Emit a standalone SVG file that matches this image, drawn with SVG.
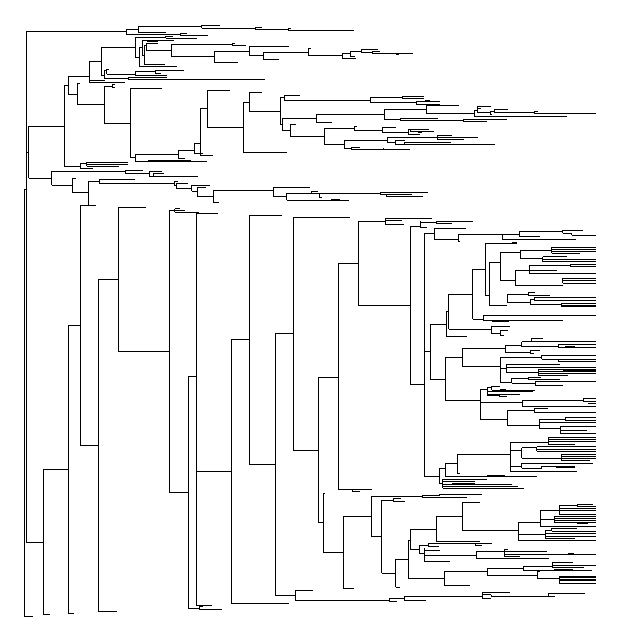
<svg xmlns="http://www.w3.org/2000/svg" width="620" height="642" viewBox="0 0 620 642">
<style>
.br{fill:none;stroke:#000;stroke-width:1;shape-rendering:crispEdges}
</style>
<rect width="620" height="642" fill="#fff"/>
<g id="connectors">
<g id="backbone">
<path class="br" d="M24.3 189 V616 M24.3 616 H32.7 M24.3 189 H26.3 M26.3 31 V542.3 M26.3 31 H126 M26.3 152 H28.7 M26.3 542.3 H43.3
M43.3 469.3 V614.3 M43.3 614.3 H49.7 M43.3 469.3 H68.3
M68.3 325.3 V613.3 M68.3 613.3 H73.7 M68.3 325.3 H80.3
M80.3 205.5 V445.3 M80.3 205.5 H96 M80.3 445.3 H98.3
M98.3 279.3 V611.3 M98.3 611.3 H116.7 M98.3 279.3 H118.3
M118.3 207.3 V351.3 M118.3 207.3 H145.7 M118.3 351.3 H169.3
M169.3 210.3 V492.3 M169.3 210.3 H174.7 M174.7 208.7 V212.3 M174.7 208.7 H180 M174.7 210.7 H184.7 M174.7 212.3 H198.7 M169.3 492.3 H188.3
M188.3 376.3 V608.3 M188.3 376.3 H196.3 M188.3 608.3 H199.3 M199.3 606.3 V609.3 M199.3 606.3 H202.7 M199.3 609.3 H221.7
M196.3 213.3 V605.3 M196.3 605.3 H211.7 M196.3 213.3 H217.7 M196.3 471.3 H231.3
M231.3 339.3 V603 M231.3 603 H288.7 M231.3 339.3 H249.3
M249.3 215.3 V464.3 M249.3 215.3 H281.7 M249.3 464.3 H275.3
M275.3 333.3 V595.3 M275.3 333.3 H293.3 M275.3 595.3 H295.3
M293.3 217.3 V450.3 M293.3 217.3 H350 M293.3 450.3 H318.3
M318.3 377.3 V522.3 M318.3 377.3 H338.3 M318.3 522.3 H323.3
M338.3 263 V489.3 M338.3 263 H358.3 M338.3 489.3 H352.3 M352.3 489.3 V491.3 M352.3 489.3 H371.7 M352.3 491.3 H360"/>
</g>
<g id="clade-top">
<path class="br" d="M126 29.3 V34.3 M126 29.3 H138.3 M126 34.3 H180
M138.3 26 V32.3 M138.3 26 H201.7 M138.3 32.3 H166
M201.7 25 V28.3 M201.7 25 H220 M201.7 28.3 H255
M255 27.3 V29.3 M255 27.3 H261.7 M255 29.3 H288.3
M288.3 28.3 V30.3 M288.3 28.3 H291 M288.3 30.3 H353.7
M180 33.3 V35 M180 33.3 H186.7 M180 35 H208.3"/>
</g>
<g id="clade-upper">
<path class="br" d="M28.7 126.3 V178.3 M28.7 126.3 H64.3 M28.7 178.3 H51.7
M64.3 85.3 V166.7 M64.3 85.3 H68.3 M64.3 166.7 H80.3
M68.3 76.3 V94.3 M68.3 76.3 H89.3 M68.3 94.3 H77.3
M89.3 61.3 V82.3 M89.3 61.3 H101.3 M89.3 80 H105 M89.3 82.3 H125
M101.3 47.3 V75.5 M101.3 47.3 H135.3 M101.3 75.5 H104.3
M135.3 37.3 V57.3 M135.3 37.3 H165.7 M135.3 57.3 H139.3
M165.7 36 V38.3 M165.7 36 H172.7 M165.7 38.3 H196.7
M139.3 47.3 V66.7 M139.3 47.3 H142.3 M139.3 66.7 H176.7
M142.3 40.7 V55.7 M142.3 40.7 H174 M142.3 55.7 H144.3
M144.3 45.7 V64.3 M144.3 45.7 H146.7 M144.3 64.3 H165
M146.7 43 V50.7 M146.7 43 H158.3 M147 41.3 H158.3 M146.7 50.7 H171
M171 44.3 V56.3 M171 44.3 H232.3 M171 56.3 H214.3
M232.3 43 V45.3 M232.3 43 H235 M232.3 45.3 H245.7
M214.3 51.3 V62.3 M214.3 51.3 H249 M214.3 62.3 H238.3
M249 46.3 V55 M249 46.3 H289 M249 55 H263.3
M263.3 52.3 V59.3 M263.3 52.3 H308.3 M263.3 59.3 H279
M308.3 48.3 V55.3 M308.3 48.3 H310.7 M308.3 55.3 H342.3
M342.3 53.3 V58.3 M342.3 53.3 H350.3 M342.3 58.3 H355.7
M350.3 51.3 V56.3 M350.3 51.3 H361.3 M350.3 56.3 H355
M361.3 49.3 V52.3 M361.3 49.3 H377.7 M361.3 52.3 H372.3
M372.3 51 V53.3 M372.3 51 H380 M372.3 53.3 H413 M396 54 H399
M104.3 70.5 V78.3 M104.3 70.5 H106.7 M106.7 69.3 V74 M106.7 69.3 H109 M106.7 74 H135
M135 71.7 V75.7 M135 71.7 H155.3 M155.3 70.7 V73.3 M155.3 70.7 H184 M155.3 73.3 H160.7 M135 75.7 H166.7
M104.3 78.3 H128.3 M128.3 77.3 V79.3 M128.3 77.3 H166.7 M128.3 79.3 H265
M77.3 83.3 V104.3 M77.3 83.3 H80 M77.3 104.3 H104.3
M104.3 86 V123.3 M104.3 86 H112.3 M112.3 84.7 V87.3 M112.3 84.7 H115 M112.3 87.3 H115 M104.3 123.3 H130.3
M130.3 88.3 V157.3 M130.3 88.3 H161.7 M130.3 157.3 H135.3
M135.3 154.3 V161.7 M135.3 154.3 H178.3 M135.3 161.7 H206.7 M148 160.5 H190.7
M178.3 150.3 V158.3 M178.3 150.3 H194.3 M178.3 158.3 H184.7
M194.3 143.3 V153.7 M194.3 143.3 H200.3 M194.3 153.7 H202.7
M200.3 108.3 V155.7 M200.3 108.3 H207.3 M200.3 155.7 H212.7
M207.3 90.3 V127.3 M207.3 90.3 H229.7 M207.3 127.3 H243.3
M243.3 102.3 V152.7 M243.3 102.3 H249.3 M243.3 152.7 H286.7 M243.3 152.2 H257
M249.3 92.7 V111.3 M249.3 92.7 H261.7 M249.3 92.2 H256.7 M249.3 111.3 H280.3
M280.3 97.7 V124.3 M280.3 97.7 H284.3 M284.3 95.3 V100.3 M284.3 95.3 H300 M284.3 100.3 H370.3 M280.3 124.3 H282.3
M282.3 118.3 V130.3 M282.3 118.3 H316.3 M282.3 130.3 H290.3
M290.3 124.3 V136.3 M290.3 124.3 H296 M290.3 136.3 H324.3
M316.3 114.3 V122.7 M316.3 114.3 H384.3 M316.3 122.7 H331.7
M384.3 109.3 V119.3 M384.3 109.3 H426.3 M384.3 119.3 H400
M426.3 105.7 V113.3 M426.3 105.7 H458.7 M426.3 113.3 H474.3
M474.3 110.3 V116.3 M474.3 110.3 H477.3 M474.3 116.3 H566.7
M477.3 106.7 V112.7 M477.3 106.7 H490.7 M477.3 108.7 H481 M477.3 112.7 H490.3
M490.3 111.3 V114.3 M490.3 111.3 H494.3 M494.3 109.3 V112.3 M494.3 109.3 H508 M494.3 112.3 H534.3 M534.3 111.3 V113.3 M534.3 111.3 H537.7 M534.3 113.3 H595.7 M490.3 114.3 H492
M400 118.3 V120.3 M400 118.3 H437.7 M400 120.3 H463.3 M463.3 119.3 V121.3 M463.3 119.3 H506.7 M463.3 121.3 H486.7
M370.3 97.3 V102.7 M370.3 97.3 H402.3 M402.3 96.3 V98.7 M402.3 96.3 H424.3 M402.3 98.7 H424 M370.3 102.7 H416.3 M416.3 101.3 V104.3 M416.3 101.3 H439.7 M416.3 104.3 H439.7 M425 100.6 H430
M324.3 128.3 V144.3 M324.3 128.3 H354.3 M324.3 144.3 H344.3
M354.3 126.3 V130.3 M354.3 126.3 H356.7 M354.3 130.3 H382.3
M382.3 127.3 V132.3 M382.3 127.3 H395.7 M382.3 132.3 H408.3
M408.3 129.7 V134.3 M408.3 129.7 H410.3 M410.3 129.7 V131.7 M410.3 129.7 H428.7 M410.3 131.7 H433.7 M408.3 134.3 H419.7 M418 132.6 H422
M344.3 140.3 V148.7 M344.3 140.3 H387.3 M344.3 148.7 H351.3 M351.3 147.3 V149 M351.3 147.3 H360 M351.3 149 H409.7 M383.3 148 V150
M387.3 137.3 V142.3 M387.3 137.3 H437.3 M387.3 142.3 H395.3
M437.3 135.7 V139.3 M437.3 135.7 H451.7 M437.3 137.3 H477.7 M437.3 139.3 H463.7
M395.3 140.3 V144.7 M395.3 140.3 H404.7 M395.3 144.7 H404.3 M404.3 142.7 V144.7 M404.3 142.7 H450.7 M404.3 144.7 H494.7 M413 144 H430.7
M80.3 163.3 V168.3 M80.3 163.3 H86.7 M86.7 162.3 V166 M86.7 162.3 H127.7 M86.7 164.3 H127.7 M86.7 166 H119 M80.3 168.3 H92.7
M51.7 171 V185.3 M51.7 171 H125.3 M51.7 185.3 H72.3
M125.3 170.3 V173.3 M125.3 170.3 H142.7 M125.3 173.3 H149.3
M149.3 171.3 V176.3 M149.3 171.3 H161.7 M149.3 176.3 H153.3 M153.3 173.7 V176.3 M153.3 173.7 H164 M153.3 176.3 H197.7
M72.3 178.3 V192.7 M72.3 178.3 H75.7 M72.3 192.7 H88.3
M88.3 181.3 V205.5 M88.3 181.3 H99.3
M99.3 179.3 V183.7 M99.3 179.3 H135 M99.3 183.7 H174.3
M174.3 181.7 V185 M174.3 181.7 H178.3 M174.3 185 H176.3 M176.3 183.3 V188.3 M176.3 183.3 H188 M176.3 188.3 H191.7
M191.7 185 V191.3 M191.7 185 H210 M191.7 191.3 H197.3
M197.3 187.3 V196.7 M197.3 187.3 H205.7 M197.3 196.7 H213.3
M213.3 190.3 V202.3 M213.3 190.3 H273.3 M213.3 202.3 H219
M273.3 187.7 V196.3 M273.3 187.7 H310 M273.3 196.3 H286.7
M286.7 193.3 V200.3 M286.7 193.3 H311.7 M286.7 200.3 H349 M331 199.8 H340
M311.7 191.3 V193.3 M311.7 191.3 H317.7 M311.7 193.3 H319.3 M319.3 193.3 V197.3 M319.3 193.3 H380.3 M319.3 197.3 H321.7
M380.3 192.3 V195.3 M380.3 192.3 H428 M380.3 194.7 H386.3 M386.3 194.7 V196.3 M386.3 194.7 H412 M386.3 196.3 H422.7"/>
</g>
<g id="clade-middle">
<path class="br" d="M358.3 221.3 V305.3 M358.3 221.3 H385 M385 218.3 V224 M385 218.3 H431.7 M385 220 H401.7 M385 224 H404
M358.3 305.3 H410.3 M410.3 226.7 V384.3 M410.3 226.7 H420 M420 221.3 V227 M420 222.3 H436 M436 221.3 V223.3 M436 221.3 H472.7 M436 223.3 H451.7 M420 227 H426.7
M410.3 384.3 H424.3
M424.3 233.3 V476.3 M424.3 233.3 H434.3 M424.3 351.7 H430 M424.3 476.3 H439.3
M434.3 228.5 V239.3 M434.3 228.5 H465.7 M434.3 239.3 H458.3 M458.3 234.7 V241.7 M458.3 234.7 H502.3 M458.3 241.7 H460
M502.3 234 V239.3 M502.3 239.3 H576 M502.3 234 H519 M519 231 V236.7 M519 231 H562.7 M519 236.7 H540
M562.7 230.3 V233.3 M562.7 230.3 H583.3 M562.7 233.3 H571.7 M571.7 233.3 V235 M571.7 235 H596
M430 324 V379.3 M430 324 H446 M430 379.3 H445.3
M446 311.7 V336.7 M446 311.7 H448.7 M446 336.7 H466.7
M448.7 294.3 V329.3 M448.7 294.3 H472.7 M448.7 329.3 H491.3
M491.3 326.7 V333 M491.3 326.7 H510 M491.3 333 H500 M500 330.7 V335 M500 330.7 H508 M500 335 H504
M472.7 269.3 V319.3 M472.7 269.3 H485.3 M472.7 319.3 H483.3
M485.3 243.3 V295.3 M485.3 243.3 H517.3 M512 242.3 V244.3 M512 242.3 H517 M485.3 295.3 H489
M489 262 V305 M489 262 H500.3
M500.3 252 V280 M500.3 252 H520 M520 250.3 V258.3 M520 250.3 H551.7 M551.7 247 V253.3 M551.7 247 H596 M551.7 249 H596 M551.7 251.2 H596 M551.7 253.3 H580
M520 258.3 H542.7 M542.7 256.7 V261.7 M542.7 256.7 H566.7 M542.7 259.3 H596 M542.7 261.7 H596
M500.3 280 H515 M515 270 V285 M515 270 H529.3 M529.3 265.5 V273.3 M529.3 265.5 H570.7 M570.7 264.3 V266.7 M570.7 264.3 H596 M570.7 266.7 H596 M529.3 270 H556.7 M529.3 273.3 H596
M515 285 H562.7 M562.7 278.3 V283.3 M562.7 278.3 H596 M562.7 280.7 H596 M562.7 283.3 H596
M489 305 H507.3 M507.3 294 V302 M507.3 294 H528.3 M528.3 292.7 V295 M528.3 292.7 H535 M528.3 295 H550
M507.3 302 H530 M530 299.3 V304.5 M530 299.3 H534.3 M534.3 297.3 V300.7 M534.3 297.3 H596 M534.3 300.7 H596 M530 304.5 H561.7 M561.7 303.3 V306.7 M561.7 303.3 H596 M561.7 305 H596 M561.7 306.7 H596
M483.3 315.7 V320.3 M483.3 315.7 H596 M483.3 320.3 H563.3 M492 321.7 H509
M445.3 357.3 V400.3 M445.3 357.3 H462.3 M445.3 400.3 H480
M462.3 348.3 V366 M462.3 348.3 H505 M462.3 366 H500.7
M505 345 V352.3 M505 345 H521.7 M505 352.3 H530 M530 350.7 V353 M530 350.7 H540 M530 353 H534
M521.7 341.7 V346.7 M521.7 341.7 H531 M531 338.3 V341.7 M531 338.3 H542.7 M531 341.7 H596 M521.7 346.7 H558.3 M558.3 344.7 V347.3 M558.3 344.7 H596 M558.3 347.3 H596 M565 346 H575
M500.7 357.3 V382.7 M500.7 357.3 H541.7 M541.7 355 V359.3 M541.7 355 H596 M586 355.8 H596 M541.7 359.3 H558.3 M558.3 359.3 V361.7 M558.3 359.3 H596 M558.3 361.7 H596
M500.7 368 H506.7 M506.7 364 V372.7 M506.7 364 H560 M506.7 367.3 H596 M506.7 372.7 H538.3 M538.3 369.3 V375 M538.3 369.3 H596 M563 370 H596 M538.3 371.7 H596 M538.3 373.3 H596 M538.3 375 H568.3
M500.7 382.7 H511.7 M511.7 378.3 V383.3 M511.7 378.3 H528.3 M528.3 377.3 V379.3 M528.3 377.3 H541 M528.3 379.3 H560 M511.7 383.3 H535 M535 381.7 V385 M535 381.7 H596 M535 385 H563.3
M480 389.3 V419.3 M480 389.3 H487 M480 402 H522.3 M480 419.3 H507.3
M487 387.3 V395.3 M487 387.3 H491.7 M491.7 386.3 V390 M491.7 386.3 H500 M491.7 390 H535 M487 391.7 H533.3 M487 394 H520 M487 395.3 H499 M499 395.3 V396.5 M499 396.5 H507 M500 389 H506
M522.3 400 V406 M522.3 400 H583.3 M583.3 398.3 V401.7 M583.3 398.3 H596 M583.3 401.7 H596 M522.3 406 H596 M588 403.7 H596
M507.3 410 V425 M507.3 410 H534 M534 408.3 V412.7 M534 408.3 H548.3 M534 412.7 H596 M568 412.2 H585
M507.3 425 H539 M539 419 V428.3 M539 419 H565 M565 417.3 V420 M565 417.3 H596 M565 420 H596 M539 422.7 H596 M539 428.3 H560 M560 426.7 V433.3 M560 426.7 H596 M560 430 H586.7 M560 433.3 H596
M439.3 468.7 V483.3 M439.3 468.7 H445.3 M439.3 483.3 H442.7
M445.3 463.3 V476 M445.3 463.3 H457.3 M445.3 476 H536.7 M486.7 475.5 H505
M457.3 454.3 V473.3 M457.3 454.3 H510 M457.3 473.3 H460
M510 441.7 V471.7 M510 442 H548.3 M548.3 437.3 V444.3 M548.3 437.3 H596 M548.3 439.5 H596 M548.3 441.7 H596 M548.3 444.3 H575
M510 450 H521.7 M521.7 447.5 V458 M521.7 447.5 H536.7 M536.7 446.7 V451.3 M536.7 446.7 H596 M536.7 449.3 H596 M576 449 H587 M536.7 451.3 H596 M521.7 458 H561.7 M561.7 454.3 V460.7 M561.7 454.3 H596 M561.7 456.5 H596 M561.7 458.7 H596 M561.7 460.7 H590
M510 466 H521.7 M521.7 463.3 V468.3 M521.7 463.3 H593 M521.7 468.3 H541.7 M541.7 466.3 V468.3 M541.7 466.3 H575 M556 467 H575
M510 471.7 H576.7 M540 471.2 H555
M442.7 479.3 V488.3 M442.7 479.3 H486.7 M442.7 481.7 H475 M442.7 484 H511.7 M452 483.6 H475 M442.7 486.7 H518.3 M442.7 488.3 H524"/>
</g>
<g id="clade-lower">
<path class="br" d="M323.3 493.3 V552.3 M323.3 493.3 H325 M323.3 552.3 H343.3
M343.3 516.3 V588.3 M343.3 516.3 H371 M343.3 588.3 H354
M371 496 V536.7 M371 496 H422.3 M371 536.7 H381.7
M422.3 495 V497.5 M422.3 495 H439.3 M439.3 494.3 V495.5 M439.3 494.3 H481.7 M422.3 497.5 H467.3
M381.7 500 V573.3 M381.7 500 H393.3 M393.3 498.7 V501.7 M393.3 498.7 H400.7 M393.3 501.7 H405 M381.7 573.3 H395.7
M395.7 559.3 V587.3 M395.7 587.3 H400 M395.7 559.3 H408.3
M408.3 540 V578.3 M408.3 540 H410.3 M408.3 578.3 H444
M410.3 529.3 V549.3 M410.3 529.3 H436.7 M410.3 549.3 H419.3
M436.7 516 V541.7 M436.7 516 H462.3 M436.7 541.7 H476 M475 541.2 H480
M462.3 502.3 V530.7 M462.3 502.3 H480 M462.3 530.7 H518.3
M518.3 522.3 V540.3 M518.3 522.3 H540 M540 510 V526.7
M540 510 H559.3 M559.3 505 V514 M559.3 505 H577.3 M577.3 504 V506.7 M577.3 504 H593 M577.3 506.7 H596 M559.3 508.3 H596 M585 508.8 H596 M559.3 510.5 H596 M559.3 514 H596
M540 519 H554.3 M554.3 516 V522.3 M554.3 516 H596 M554.3 518.3 H596 M554.3 520.5 H596 M576 520 H596 M554.3 522.3 H596 M576.7 523.6 H588
M540 526.7 H596
M518.3 534 H545 M545 530 V538.3 M545 530 H551.7 M551.7 528.3 V531 M551.7 528.3 H577.3 M551.7 531 H596 M545 533 H596 M545 536.7 H596 M545 538.3 H575
M518.3 540.3 H596
M419.3 545 V553.3 M419.3 545 H428.3 M428.3 543.3 V546 M428.3 543.3 H492.3 M428.3 546 H439.3 M475 543.3 V545 M475 545 H481.7 M419.3 553.3 H424.3
M424.3 548.3 V561.7 M424.3 550 H440 M424.3 555.7 H476.3 M424.3 561.7 H450
M476.3 551 V558.7 M476.3 551 H504.3 M504.3 549.3 V556 M504.3 549.3 H508.3 M504.3 551 H546.7 M504.3 554 H596 M568 553.5 H574 M504.3 556 H520 M476.3 558.7 H549 M483 558.2 H487
M444 571.7 V585 M444 571.7 H487.3 M444 585 H470
M487.3 568.3 V575 M487.3 568.3 H523.3 M487.3 575 H537.3
M523.3 566 V570 M523.3 566 H552.3 M552.3 562.7 V567.3 M552.3 562.7 H572.7 M552.3 565 H596 M552.3 567.3 H584 M523.3 570 H591.7 M554 569.5 H573.3
M537.3 571.7 V578.3 M537.3 571.7 H540 M537.3 578.3 H559.3 M559.3 576 V583 M559.3 576 H596 M559.3 577.5 H596 M559.3 579.3 H596 M559.3 580.7 H596 M559.3 583 H596
M295.3 590.3 V600.3 M295.3 590.3 H312.7 M295.3 600.3 H389.3
M389.3 598.7 V601.7 M389.3 598.7 H404.3 M389.3 601.7 H396.7
M404.3 596 V600.7 M404.3 596 H482.3 M404.3 600.7 H425.7
M482.3 592.3 V598.3 M482.3 592.3 H510 M482.3 594.5 H491 M491 594.5 V596.3 M491 596.3 H548.3 M548.3 593.3 V596.3 M548.3 593.3 H585 M548.3 596.3 H555 M482.3 598.3 H490.7"/>
</g>
</g>
</svg>
